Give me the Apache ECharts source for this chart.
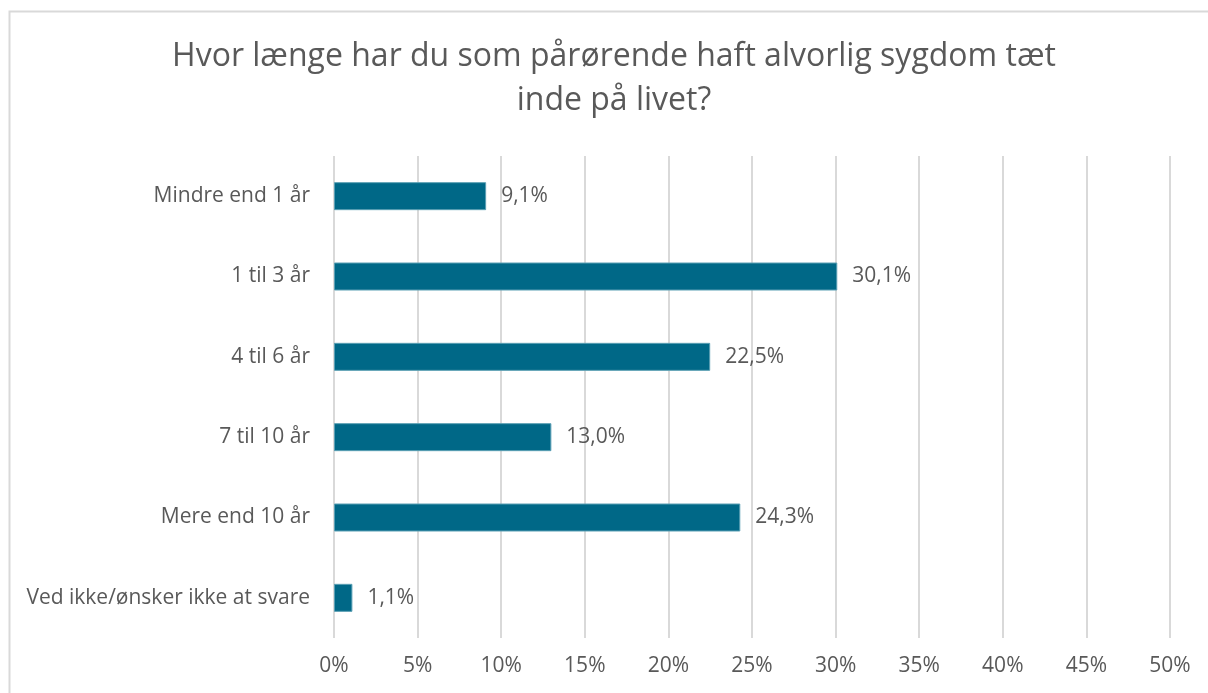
<!DOCTYPE html>
<html lang="da">
<head>
    <meta charset="UTF-8">
    <script type="text/javascript" src="https://cdn.jsdelivr.net/npm/echarts@6/dist/echarts.min.js" charset="utf-8"></script>
    <title>Pårørende</title>
    <style>
        html, body { margin: 0; padding: 0; background: #fff; }
        #main { width: 1208px; height: 693px; }
    </style>
</head>
<body>
<div id="main"></div>
<script>
// data
var categories = ['Mindre end 1 år', '1 til 3 år', '4 til 6 år', '7 til 10 år', 'Mere end 10 år', 'Ved ikke/ønsker ikke at svare'];
var values = [9.1, 30.1, 22.5, 13.0, 24.3, 1.1];
var axisMax = 50;
var axisStep = 5;

var textColor = '#595959';
var font = '"Open Sans", Lato, sans-serif';

var myChart = echarts.init(document.getElementById('main'));

var option = {
    animation: false,
    textStyle: { fontFamily: font },
    title: {
        text: 'Hvor længe har du som pårørende haft alvorlig sygdom tæt\ninde på livet?',
        left: 609,
        textAlign: 'center',
        top: 30,
        textStyle: {
            color: textColor,
            fontSize: 32,
            fontWeight: 'normal',
            lineHeight: 44,
            fontFamily: font
        }
    },
    graphic: [{
        type: 'rect',
        shape: { x: 9.5, y: 11.5, width: 1400, height: 900 },
        style: { fill: 'none', stroke: '#d9d9d9', lineWidth: 2 },
        silent: true,
        z: -1
    }],
    grid: { left: 334, right: 38, top: 156, bottom: 55 },
    xAxis: {
        type: 'value',
        min: 0,
        max: axisMax,
        interval: axisStep,
        axisLine: { show: false },
        axisTick: { show: false },
        splitLine: { lineStyle: { color: '#d9d9d9', width: 2 } },
        axisLabel: {
            color: textColor,
            fontSize: 21,
            margin: 18,
            formatter: function (v) { return v + '%'; }
        }
    },
    yAxis: {
        type: 'category',
        inverse: true,
        data: categories,
        axisLine: { show: false },
        axisTick: { show: false },
        axisLabel: { color: textColor, fontSize: 21, margin: 24 }
    },
    series: [{
        type: 'bar',
        data: values,
        barWidth: 28,
        itemStyle: { color: '#006887', borderColor: '#5a9fb4', borderWidth: 1 },
        label: {
            show: true,
            position: 'right',
            distance: 15,
            color: textColor,
            fontSize: 21,
            formatter: function (p) { return p.value.toFixed(1).replace('.', ',') + '%'; }
        }
    }]
};

option && myChart.setOption(option);
</script>
</body>
</html>
